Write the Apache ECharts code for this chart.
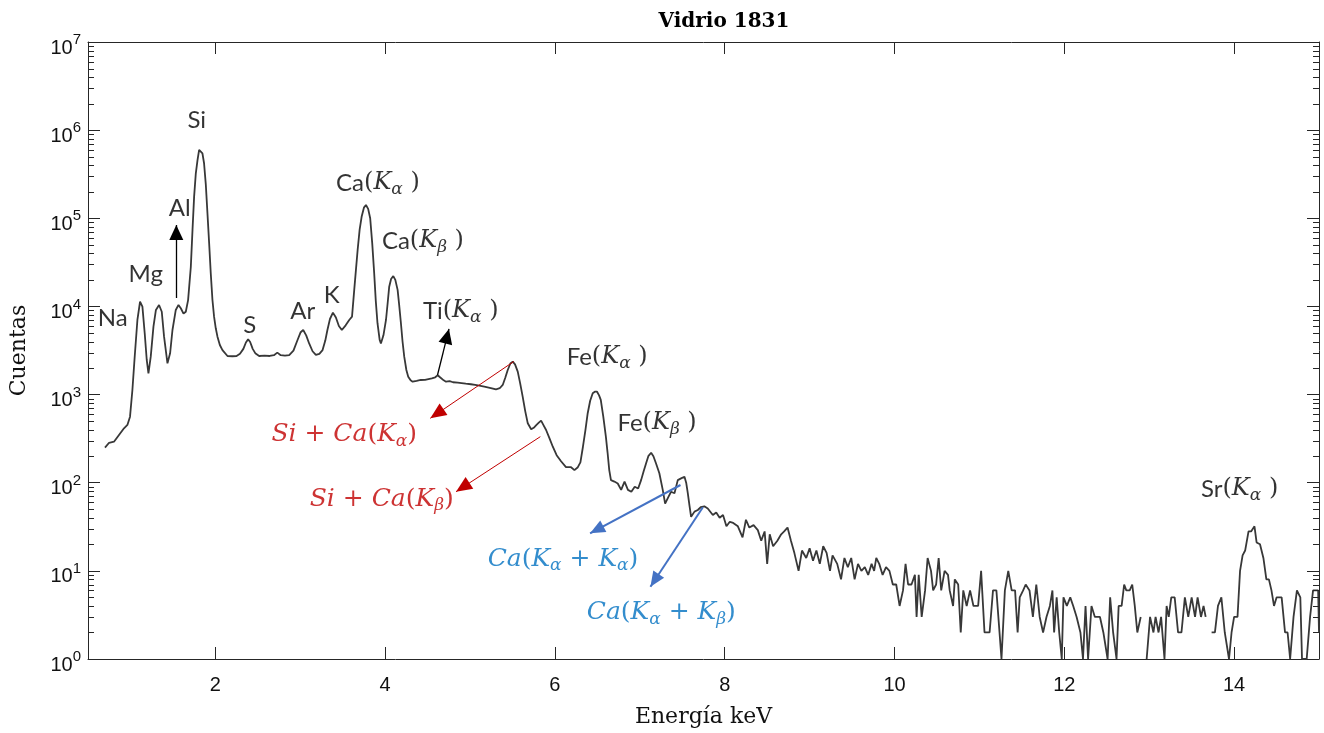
<!DOCTYPE html>
<html>
<head>
<meta charset="utf-8">
<script src="https://cdn.jsdelivr.net/npm/echarts@6/dist/echarts.min.js"></script>
<style>html,body{margin:0;padding:0;background:#fff}#chart{width:1324px;height:733px}</style>
</head>
<body>
<div id="chart"></div>
<script>
// ---- spectrum (energy in keV, counts) ----
const energyKeV = [
  0.700,0.748,0.806,0.865,0.924,0.964,0.995,1.023,1.050,1.082,
  1.113,1.141,1.168,1.192,1.212,1.239,1.271,1.300,1.337,1.369,
  1.396,1.436,1.467,1.495,1.534,1.566,1.593,1.625,1.652,1.679,
  1.711,1.731,1.750,1.770,1.790,1.809,1.825,1.848,1.867,1.888,
  1.907,1.927,1.946,1.966,1.985,2.005,2.025,2.053,2.084,2.143,
  2.20,2.25,2.29,2.33,2.36,2.386,2.41,2.44,2.47,2.516,
  2.58,2.64,2.69,2.73,2.77,2.82,2.87,2.92,2.968,3.005,
  3.035,3.07,3.105,3.145,3.184,3.225,3.263,3.295,3.32,3.35,
  3.385,3.42,3.455,3.49,3.535,3.577,3.61,3.636,3.656,3.676,
  3.70,3.723,3.75,3.774,3.80,3.824,3.848,3.871,3.89,3.91,
  3.935,3.95,3.98,4.01,4.03,4.048,4.07,4.096,4.12,4.147,
  4.165,4.186,4.205,4.225,4.25,4.272,4.30,4.324,
  4.37,4.42,4.47,4.51,4.55,4.59,4.619,4.65,4.69,4.717,
  4.76,4.80,4.855,4.90,4.95,5.01,5.06,5.11,5.168,5.22,
  5.27,5.306,5.35,5.385,5.415,5.444,5.475,5.503,5.53,5.562,
  5.59,5.62,5.65,5.68,5.72,5.75,5.78,5.81,5.837,5.865,
  5.896,5.935,5.975,6.02,6.072,6.13,6.19,6.23,6.27,6.30,
  6.33,6.36,6.386,6.415,6.445,6.47,6.496,6.52,6.54,6.57,
  6.60,6.62,6.64,6.66,6.70,6.74,6.78,6.82,6.86,6.90,
  6.94,6.98,7.015,7.045,7.074,7.10,7.133,7.16,7.19,7.23,
  7.27,7.298,7.337,7.368,7.408,7.447,7.486,7.526,7.546,7.565,
  7.585,7.604,7.644,7.683,7.72,7.76,
  7.80,7.86,7.90,7.94,7.98,8.02,8.06,8.10,8.155,8.21,
  8.25,8.29,8.34,8.39,8.43,8.47,8.50,8.53,8.57,8.62,
  8.665,8.70,8.74,8.78,8.82,8.87,8.91,8.96,9.00,9.04,
  9.08,9.12,9.16,9.20,9.24,9.27,9.325,9.37,9.41,9.45,
  9.49,9.53,9.57,9.61,9.65,9.69,9.73,9.76,9.785,9.82,
  9.86,9.90,9.94,9.98,10.02,10.06,
  10.10,10.13,10.16,10.20,10.24,10.26,10.285,10.32,10.36,10.39,
  10.43,10.455,10.49,10.52,10.55,10.59,10.63,10.65,10.69,10.71,
  10.75,10.78,10.81,10.85,10.89,10.93,10.985,11.02,11.06,11.12,
  11.16,11.20,11.26,11.30,11.34,11.38,11.42,11.45,11.475,11.515,
  11.545,11.59,11.63,11.67,11.71,11.75,11.79,11.83,11.86,11.88,
  11.91,11.94,11.97,11.99,12.03,12.07,12.105,12.145,12.19,12.22,
  12.25,12.28,12.32,12.36,12.42,12.46,12.51,12.54,12.575,12.615,
  12.64,12.675,12.705,12.73,12.77,12.80,12.83,12.86,12.90,12.93,
  12.97,13.01,13.05,13.075,13.11,13.14,13.18,13.205,13.23,13.26,
  13.30,13.34,13.38,13.42,13.46,13.50,13.54,13.57,13.61,13.64,
  13.665,13.70,13.735,13.774,13.81,13.85,13.89,13.94,13.97,14.00,
  14.04,14.07,14.10,14.13,14.17,14.20,14.24,14.265,14.305,14.345,
  14.38,14.41,14.44,14.47,14.50,14.56,14.60,14.63,14.66,14.70,
  14.74,14.78,14.80,14.855,14.895,14.93,14.99,15.0
];
const counts = [
  250,284,292,348,414,452,561,1127,2690,7020,
  11300,9930,4960,2470,1743,2690,5890,9120,10380,8710,
  4540,2265,2940,5400,9120,10400,9530,8300,8710,11800,
  28000,73600,176000,324000,458000,596000,615000,546000,421000,239000,
  114000,52000,23800,11830,7650,5650,4540,3650,3200,2740,
  2720,2740,2900,3300,3900,4240,3950,3300,2950,2740,
  2760,2740,2800,2990,2800,2760,2800,3150,4160,5100,
  5400,4700,3800,3100,2820,2900,3200,4100,5400,7200,
  8500,7500,6000,5400,6100,7020,7650,15400,26000,43700,
  75000,104000,132000,141600,128000,100000,52000,23800,11500,6450,
  4200,3800,4700,7020,11000,16750,20500,22100,20000,15400,
  10500,6450,4000,2690,1900,1596,1450,1400,
  1430,1464,1470,1500,1530,1570,1655,1560,1450,1400,
  1420,1380,1365,1350,1330,1309,1290,1260,1230,1200,
  1170,1148,1180,1285,1550,1900,2250,2360,2200,1820,
  1350,946,650,472,404,420,450,480,506,450,
  396,320,256,205,175,150,150,139,150,170,
  256,400,614,850,1035,1078,1078,980,870,560,
  333,220,139,107,103,98,83,103,83,79,
  90,86,107,135,166,200,219,200,166,128,
  83,58,69,79,76,107,112,117,100,76,
  55,41,47,49,53,54,
  51,43,46,40,43,32,36,35,32,24,
  38,31,33,29,22,28,12,26,19,22,
  26,28,31,22,16,10,17,14,18,13,
  17,12,19,16,10,15,12,8,14,11,
  14,8,12,10,11,9,12,10,14,12,
  9,11,10,7,7,4,
  6,12,7,7,9,3,9,3,6,14,
  10,6,7,14,6,10,9,6,4,8,
  7,2,6,4,6,4,4,10,2,2,
  6,6,1,6,10,6,6,2,5,6,
  7,6,3,7,3,2,3,4,6,2,
  5,2,1,5,4,5,4,3,2,1,
  4,1,4,3,3,2,1,5,2,1,
  4,4,7,6,6,7,4,2,3,null,
  1,3,2,3,2,3,1,4,3,5,
  5,2,2,5,3,5,3,5,3,4,
  3,null,2,2,4,5,2,1,2,3,
  3,10,15,17,28,28,32,21,20,14,
  8,8,6,4,5,5,2,2,1,3,
  6,5,1,1,3,6,6,2
];

// ---- axes ----
const xTicks = [2, 4, 6, 8, 10, 12, 14];
const X_MIN = 0.5, X_MAX = 15;
const Y_MIN = 1, Y_MAX = 1e7;
const yMinorTicks = [];
for (let e = 0; e < 7; e++) for (let m = 2; m <= 9; m++) yMinorTicks.push(m * Math.pow(10, e));

// ---- annotations: [text (rich), energy keV, counts] ----
const peakLabels = [
  ['{n|Na}', 0.791, 7400],
  ['{n|Mg}', 1.18, 23300],
  ['{n|Al}', 1.581, 131000],
  ['{n|Si}', 1.781, 1.30e6],
  ['{n|S}', 2.406, 6160],
  ['{n|Ar}', 3.03, 8880],
  ['{n|K}', 3.37, 13490],
  ['{n|Ca}{m|(}{k|K}{s|α}{m| )}', 3.915, 251000],
  ['{n|Ca}{m|(}{k|K}{s|β}{m| )}', 4.445, 55200],
  ['{n|Ti}{m|(}{k|K}{s|α}{m| )}', 4.89, 8880],
  ['{n|Fe}{m|(}{k|K}{s|α}{m| )}', 6.615, 2670],
  ['{n|Fe}{m|(}{k|K}{s|β}{m| )}', 7.203, 476],
  ['{n|Sr}{m|(}{k|K}{s|α}{m| )}', 14.065, 84.9],
  ['{ri|Si}{ru| + }{ri|Ca}{ru|(}{ri|K}{rs|α}{ru|)}', 3.518, 348],
  ['{ri|Si}{ru| + }{ri|Ca}{ru|(}{ri|K}{rs|β}{ru|)}', 3.96, 65.3],
  ['{bi|Ca}{bu|(}{bi|K}{bs|α}{bu| + }{bi|K}{bs|α}{bu|)}', 6.095, 13.6],
  ['{bi|Ca}{bu|(}{bi|K}{bs|α}{bu| + }{bi|K}{bs|β}{bu|)}', 7.253, 3.33]
];
// arrows: [fromE, fromCounts, toE, toCounts, colour key]
const arrows = [
  [1.54, 12470, 1.54, 83900, 'k'],
  [4.617, 1668, 4.752, 5550, 'k'],
  [5.515, 2372, 4.532, 538, 'r'],
  [5.828, 333, 4.835, 79.1, 'r'],
  [7.479, 94.2, 6.414, 26.7, 'b'],
  [7.743, 52.6, 7.125, 6.61, 'b']
];
const arrowStyle = {
  k: { color: '#000000', width: 1.3, head: [14, 15] },
  r: { color: '#C00000', width: 1, head: [14, 16] },
  b: { color: '#4472C4', width: 2, head: [13, 15] }
};

const AX = '#262626';
const spectrum = energyKeV.map((e, i) => [e, counts[i] == null ? '-' : counts[i]]);

const sansLbl = 'Lato';
const mathF = 'DejaVu Serif';
const rich = {
  n: { fontFamily: sansLbl, fontSize: 24, lineHeight: 30, color: '#000' },
  m: { fontFamily: mathF, fontSize: 24, lineHeight: 30, color: '#000' },
  k: { fontFamily: mathF, fontStyle: 'italic', fontSize: 24, lineHeight: 30, color: '#000' },
  s: { fontFamily: mathF, fontStyle: 'italic', fontSize: 17, lineHeight: 12, verticalAlign: 'bottom', color: '#000' },
  ri: { fontFamily: mathF, fontStyle: 'italic', fontSize: 25, lineHeight: 30, color: '#C00000' },
  ru: { fontFamily: mathF, fontSize: 25, lineHeight: 30, color: '#C00000' },
  rs: { fontFamily: mathF, fontStyle: 'italic', fontSize: 17, lineHeight: 12, verticalAlign: 'bottom', color: '#C00000' },
  bi: { fontFamily: mathF, fontStyle: 'italic', fontSize: 25, lineHeight: 30, color: '#0070C0' },
  bu: { fontFamily: mathF, fontSize: 25, lineHeight: 30, color: '#0070C0' },
  bs: { fontFamily: mathF, fontStyle: 'italic', fontSize: 17, lineHeight: 12, verticalAlign: 'bottom', color: '#0070C0' }
};

const chart = echarts.init(document.getElementById('chart'), null, { renderer: 'canvas' });

const option = {
  animation: false,
  backgroundColor: '#ffffff',
  grid: { left: 87, right: 5, top: 42, bottom: 74, containLabel: false },
  graphic: [{
    type: 'text', x: 724, y: 22, z: 100,
    style: { text: 'Vidrio 1831', align: 'center', verticalAlign: 'middle',
      font: 'bold 20px "DejaVu Serif"', fill: '#000' }
  }],
  xAxis: [{
    type: 'value', min: X_MIN, max: X_MAX, position: 'bottom',
    name: 'Energía keV', nameLocation: 'middle', nameGap: 47,
    nameTextStyle: { fontFamily: 'DejaVu Serif', fontSize: 22, color: '#111' },
    axisLine: { show: true, onZero: false, lineStyle: { color: AX, width: 1 } },
    axisTick: { show: true, inside: true, length: 12, customValues: xTicks, lineStyle: { color: AX, width: 1 } },
    axisLabel: { show: true, customValues: xTicks, margin: 16, fontFamily: 'Liberation Sans', fontSize: 20, color: '#111' },
    splitLine: { show: false }
  }, {
    type: 'value', min: X_MIN, max: X_MAX, position: 'top',
    axisLine: { show: true, onZero: false, lineStyle: { color: AX, width: 1 } },
    axisTick: { show: true, inside: true, length: 12, customValues: xTicks, lineStyle: { color: AX, width: 1 } },
    axisLabel: { show: false },
    splitLine: { show: false }
  }],
  yAxis: [{
    type: 'log', logBase: 10, min: Y_MIN, max: Y_MAX, splitNumber: 7, position: 'left',
    name: 'Cuentas', nameLocation: 'middle', nameGap: 58, nameRotate: 90,
    nameTextStyle: { fontFamily: 'DejaVu Serif', fontSize: 22, color: '#111' },
    axisLine: { show: true, onZero: false, lineStyle: { color: AX, width: 1 } },
    axisTick: { show: true, inside: true, length: 12, lineStyle: { color: AX, width: 1 } },
    axisLabel: {
      show: true, margin: 7, padding: [0, 0, 4, 0],
      formatter: v => '{b|10}{p|' + Math.round(Math.log10(v)) + '}',
      rich: {
        b: { fontFamily: 'Liberation Sans', fontSize: 20, lineHeight: 20, verticalAlign: 'bottom', color: '#111' },
        p: { fontFamily: 'Liberation Sans', fontSize: 15, lineHeight: 36, color: '#111' }
      }
    },
    splitLine: { show: false }
  }, {
    type: 'log', logBase: 10, min: Y_MIN, max: Y_MAX, splitNumber: 7, position: 'right',
    axisLine: { show: true, onZero: false, lineStyle: { color: AX, width: 1 } },
    axisTick: { show: true, inside: true, length: 12, lineStyle: { color: AX, width: 1 } },
    axisLabel: { show: false },
    splitLine: { show: false }
  }],
  series: [{
    name: 'Vidrio 1831', type: 'line', xAxisIndex: 0, yAxisIndex: 0,
    data: spectrum, showSymbol: false, symbol: 'none', connectNulls: false,
    lineStyle: { color: '#383838', width: 1.8 }, clip: true, z: 3,
    emphasis: { disabled: true }
  }, {
    name: 'minor', type: 'custom', xAxisIndex: 0, yAxisIndex: 0, silent: true, clip: false, z: 4,
    data: yMinorTicks.map(v => [X_MIN, v]),
    encode: { x: 0, y: 1 },
    renderItem: (params, api) => {
      const v = api.value(1);
      const pL = api.coord([X_MIN, v]);
      const pR = api.coord([X_MAX, v]);
      const y = Math.round(pL[1]) + 0.5;
      return { type: 'group', children: [
        { type: 'line', shape: { x1: pL[0], y1: y, x2: pL[0] + 6, y2: y }, style: { stroke: AX, lineWidth: 1 } },
        { type: 'line', shape: { x1: pR[0] - 6, y1: y, x2: pR[0], y2: y }, style: { stroke: AX, lineWidth: 1 } }
      ] };
    }
  }, {
    name: 'labels', type: 'scatter', xAxisIndex: 0, yAxisIndex: 0, silent: true, z: 10,
    symbolSize: 0, itemStyle: { color: 'transparent' },
    data: peakLabels.map(p => ({ value: [p[1], p[2]], label: { formatter: p[0] } })),
    label: { show: true, position: 'inside', align: 'center', verticalAlign: 'middle', rich: rich },
    emphasis: { disabled: true },
    markLine: {
      silent: true, animation: false,
      symbol: ['none', 'triangle'],
      label: { show: false },
      emphasis: { disabled: true },
      data: arrows.map(a => {
        const st = arrowStyle[a[4]];
        return [
          { coord: [a[0], a[1]], symbol: 'none', lineStyle: { color: st.color, width: st.width, type: 'solid' } },
          { coord: [a[2], a[3]], symbol: 'triangle', symbolSize: st.head, symbolOffset: [0, '50%'],
            lineStyle: { color: st.color, width: st.width, type: 'solid' } }
        ];
      })
    }
  }]
};
chart.setOption(option);
</script>
</body>
</html>
